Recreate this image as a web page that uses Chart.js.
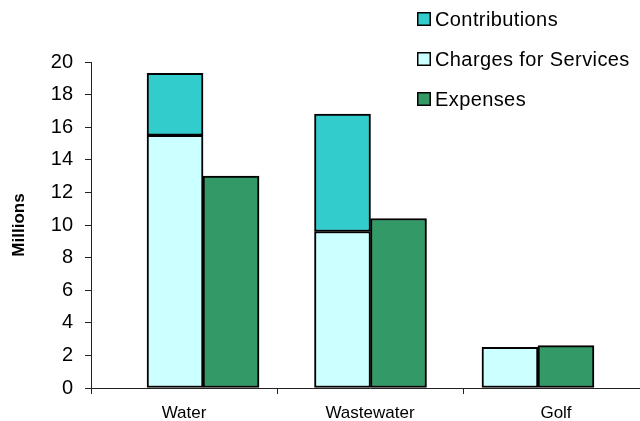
<!DOCTYPE html>
<html>
<head>
<meta charset="utf-8">
<script src="https://cdn.jsdelivr.net/npm/chart.js@4/dist/chart.umd.min.js"></script>
<style>
  html, body { margin: 0; padding: 0; background: #fff; overflow: hidden; }
  #wrap { width: 660px; height: 421px; }
</style>
</head>
<body>
<div id="wrap"><canvas id="myChart"></canvas></div>
<script>
var categories = ['Water', 'Wastewater', 'Golf'];
var charges = [15.5, 9.6, 2.5];
var contributions = [3.8, 7.2, 0];
var expenses = [13.0, 10.4, 2.6];
var yMin = 0;
var yMax = 20;
var yStep = 2;

var FONT = '"Liberation Sans", Arial, sans-serif';

// bars sit on a hidden linear axis so each pair can be placed on its own slot
function points(values) {
  return values.map(function (v, i) { return { x: i, y: v }; });
}

// legend drawn by hand in the top-right corner, one row per series
var boxLegend = {
  id: 'boxLegend',
  afterDraw: function (chart) {
    var ctx = chart.ctx;
    var order = [1, 0, 2];
    ctx.save();
    ctx.font = '20px ' + FONT;
    ctx.letterSpacing = '0.4px';
    ctx.textBaseline = 'middle';
    order.forEach(function (di, row) {
      var ds = chart.data.datasets[di];
      var y = 19 + row * 40;
      ctx.fillStyle = ds.backgroundColor;
      ctx.fillRect(417, y - 7, 14, 14);
      ctx.strokeStyle = '#000';
      ctx.lineWidth = 1.5;
      ctx.strokeRect(417.75, y - 6.25, 12.5, 12.5);
      ctx.fillStyle = '#000';
      ctx.fillText(ds.label, 435, y + 1);
    });
    ctx.restore();
  }
};

(function () {
  var ctx = document.getElementById('myChart');

  var myChart = new Chart(ctx, {
    type: 'bar',
    data: {
      labels: categories,
      datasets: [{
        label: 'Charges for Services',
        data: points(charges),
        stack: 'revenue',
        xAxisID: 'xb',
        backgroundColor: '#CCFFFF'
      },
      {
        label: 'Contributions',
        data: points(contributions),
        stack: 'revenue',
        xAxisID: 'xb',
        backgroundColor: '#33CCCC'
      },
      {
        label: 'Expenses',
        data: points(expenses),
        stack: 'expenses',
        xAxisID: 'xb',
        backgroundColor: '#339966'
      }]
    },
    options: {
      responsive: true,
      maintainAspectRatio: false,
      animation: false,
      layout: { padding: { top: 62, right: 11, left: 0, bottom: 0 } },
      datasets: {
        bar: {
          barThickness: 56,
          borderColor: '#000',
          borderWidth: 2,
          borderSkipped: false
        }
      },
      plugins: {
        legend: { display: false },
        tooltip: { enabled: false }
      },
      scales: {
        x: {
          type: 'category',
          offset: true,
          grid: {
            offset: true,
            drawOnChartArea: false,
            drawTicks: true,
            tickLength: 6,
            color: '#222'
          },
          border: { display: true, color: '#222', width: 1 },
          ticks: {
            color: '#000',
            padding: 9,
            font: { family: FONT, size: 17 }
          },
          afterFit: function (scale) { scale.height = 33; }
        },
        xb: {
          type: 'linear',
          axis: 'x',
          display: false,
          offset: false,
          min: -0.669,
          max: 2.663
        },
        y: {
          stacked: true,
          min: yMin,
          max: yMax,
          grid: {
            drawOnChartArea: false,
            drawTicks: true,
            tickLength: 6,
            color: '#222'
          },
          border: { display: true, color: '#222', width: 1 },
          ticks: {
            stepSize: yStep,
            color: '#000',
            padding: 12,
            font: { family: FONT, size: 20 }
          },
          title: {
            display: true,
            text: 'Millions',
            color: '#000',
            padding: { top: 9, bottom: 0 },
            font: { family: FONT, size: 17, weight: 'bold' }
          },
          afterFit: function (scale) { scale.width = 91; }
        }
      }
    },
    plugins: [boxLegend]
  });
}());
</script>
</body>
</html>
